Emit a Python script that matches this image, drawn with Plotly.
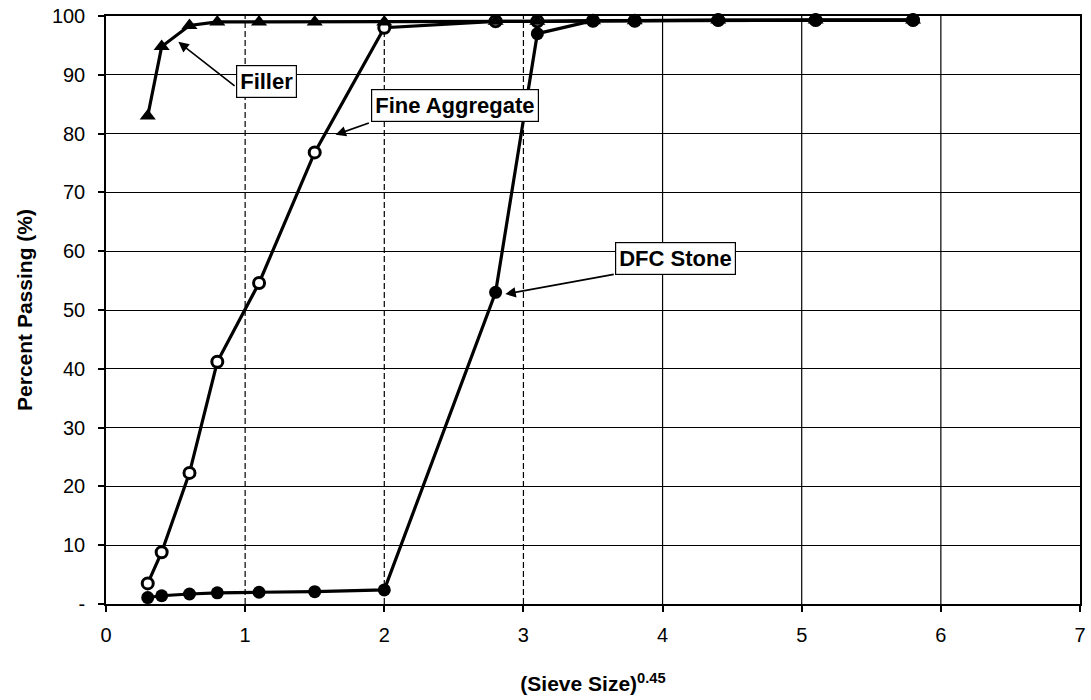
import plotly.graph_objects as go

# Gradation curves: x is (sieve size)^0.45, y is percent passing
sieve_x = [0.3, 0.4, 0.6, 0.8, 1.1, 1.5, 2.0, 2.8, 3.1, 3.5, 3.8, 4.4, 5.1, 5.8]

filler = [83.0, 94.8, 98.4, 99.0, 99.0, 99.0, 99.0, 99.1, 99.1, 99.2, 99.2, 99.3, 99.3, 99.3]
fine_aggregate = [3.5, 8.8, 22.3, 41.2, 54.6, 76.8, 98.0, 99.1, 99.1, 99.2, 99.2, 99.3, 99.3, 99.3]
dfc_stone = [1.1, 1.4, 1.7, 1.9, 2.0, 2.1, 2.4, 53.0, 97.0, 99.2, 99.2, 99.3, 99.3, 99.3]

y_ticks = [0, 10, 20, 30, 40, 50, 60, 70, 80, 90, 100]
y_tick_text = ["-", "10", "20", "30", "40", "50", "60", "70", "80", "90", "100"]
x_ticks = [0, 1, 2, 3, 4, 5, 6, 7]

FONT = "Liberation Sans, Arial, sans-serif"
INK = "black"

fig = go.Figure()

fig.add_trace(go.Scatter(
    x=sieve_x, y=fine_aggregate, name="Fine Aggregate", mode="lines+markers",
    line=dict(color=INK, width=3.2), cliponaxis=False,
    marker=dict(symbol="circle", size=11, color="white", line=dict(color=INK, width=3)),
))
fig.add_trace(go.Scatter(
    x=sieve_x, y=dfc_stone, name="DFC Stone", mode="lines+markers",
    line=dict(color=INK, width=3.2), cliponaxis=False,
    marker=dict(symbol="circle", size=13, color=INK),
))
fig.add_trace(go.Scatter(
    x=sieve_x, y=filler, name="Filler", mode="lines+markers",
    line=dict(color=INK, width=3.2), cliponaxis=False,
    marker=dict(symbol="triangle-up", size=14, color=INK),
))

# vertical grid: dashed on the left, solid further right
for gx in x_ticks[1:-1]:
    fig.add_vline(x=gx, line=dict(color=INK, width=1.2, dash="6px,3px" if gx <= 3 else "solid"),
                  layer="below")

# labelled callouts: a boxed label plus a separate arrow pointing at the curve
callouts = [
    # text, label centre (x, y), arrow tail (x, y), arrow head (x, y)
    ("Filler", (1.15, 88.9), (0.935, 87.9), (0.52, 95.6)),
    ("Fine Aggregate", (2.51, 84.7), (1.90, 81.9), (1.65, 79.8)),
    ("DFC Stone", (4.09, 58.8), (3.66, 56.1), (2.87, 52.7)),
]
for text, (cx, cy), (tx, ty), (hx, hy) in callouts:
    fig.add_annotation(
        x=hx, y=hy, ax=tx, ay=ty, xref="x", yref="y", axref="x", ayref="y",
        text="", showarrow=True, arrowhead=2, arrowsize=1.3, arrowwidth=1.6,
        arrowcolor=INK, standoff=0, startstandoff=0,
    )
    fig.add_annotation(
        x=cx, y=cy, xref="x", yref="y", text=f"<b>{text}</b>", showarrow=False,
        font=dict(family=FONT, size=22, color=INK),
        bgcolor="white", bordercolor=INK, borderwidth=1.2, borderpad=3,
    )

fig.update_layout(
    width=1091, height=700,
    margin=dict(l=106, r=11, t=16, b=96, autoexpand=False),
    paper_bgcolor="white", plot_bgcolor="white",
    showlegend=False,
    font=dict(family=FONT, size=20, color=INK),
)

fig.update_xaxes(
    range=[0, 7], tickvals=x_ticks, showgrid=False, zeroline=False,
    showline=True, linecolor=INK, linewidth=1.5, mirror=True,
    ticks="outside", ticklen=6, tickwidth=1.5, tickcolor=INK,
    ticklabelstandoff=6, automargin=False,
    tickfont=dict(family=FONT, size=20, color=INK),
    title=dict(text="<b>(Sieve Size)<sup>0.45</sup></b>", standoff=32,
               font=dict(family=FONT, size=21, color=INK)),
)
fig.update_yaxes(
    range=[0, 100], tickvals=y_ticks, ticktext=y_tick_text,
    showgrid=True, gridcolor=INK, gridwidth=1.2, zeroline=False,
    showline=True, linecolor=INK, linewidth=1.5, mirror=True,
    ticks="outside", ticklen=6, tickwidth=1.5, tickcolor=INK,
    ticklabelstandoff=9, automargin=False,
    tickfont=dict(family=FONT, size=20, color=INK),
    title=dict(text="<b>Percent Passing (%)</b>", standoff=14,
               font=dict(family=FONT, size=21, color=INK)),
)

fig.write_html("out.html")
